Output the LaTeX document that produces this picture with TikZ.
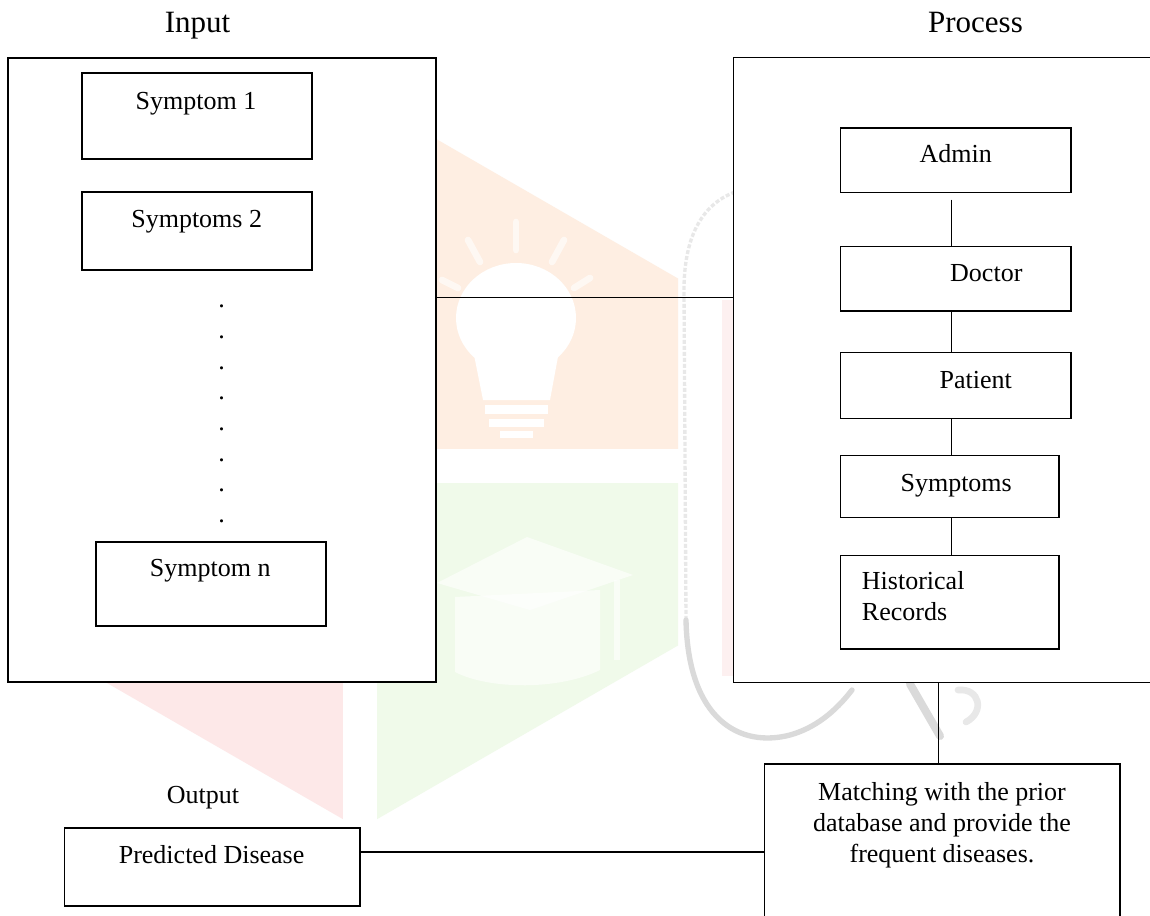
\documentclass[tikz,border=0pt]{standalone}
\usepackage{fontspec}
\setmainfont{Liberation Serif}
\definecolor{wmorange}{RGB}{254,238,226}
\definecolor{wmgreen}{RGB}{240,250,234}
\definecolor{wmpink}{RGB}{253,232,232}
\definecolor{wmstrip}{RGB}{253,240,240}
\definecolor{wmgray}{RGB}{218,218,218}
\definecolor{wmgraylight}{RGB}{232,232,232}
\tikzset{
  box/.style={draw=black, line width=1.1pt, fill=white, inner sep=0pt, rectangle},
  txt/.style={inner sep=0pt, anchor=base, font=\fontsize{19.5pt}{23.25pt}\selectfont},
  head/.style={inner sep=0pt, anchor=base, font=\fontsize{23.25pt}{28pt}\selectfont},
  link/.style={draw=black, line width=1.1pt},
}
\begin{document}
\begin{tikzpicture}[x=0.75pt,y=-0.75pt]
\clip (0,0) rectangle (1150,916);
\fill[white] (0,0) rectangle (1150,916);
% ---------- faint watermark ----------
\begin{scope}
  \clip (360,95) -- (678,278.5) -- (678,645.5) -- (360,829) -- (42,645.5) -- (42,278.5) -- cycle;
  \fill[wmorange] (0,0) rectangle (700,449);
  \fill[wmgreen] (377,483) rectangle (700,900);
  \fill[wmpink] (0,483) rectangle (343,900);
\end{scope}
\fill[white] (516,318) ellipse [x radius=60, y radius=55];
\fill[white] (470,335) -- (562,335) -- (550,400) -- (483,400) -- cycle;
\fill[white] (485,405) rectangle (548,414);
\fill[white] (489,419) rectangle (544,427);
\fill[white] (500,431) rectangle (533,438);
\begin{scope}[white, opacity=0.6, line width=5pt, line cap=round]
  \draw (516,222) -- (516,250);
  \draw (468,240) -- (480,262);
  \draw (564,240) -- (552,262);
  \draw (442,280) -- (458,288);
  \draw (590,278) -- (574,288);
\end{scope}
\fill[white, opacity=0.6] (437,583) -- (527,537) -- (633,575) -- (530,610) -- cycle;
\fill[white, opacity=0.6] (455,597) -- (600,590) -- (600,670) .. controls (560,690) and (490,690) .. (455,672) -- cycle;
\draw[white, opacity=0.6, line width=4pt] (617,580) -- (617,660);
\fill[wmstrip] (722,300) rectangle (733,676);
\draw[wmgraylight, line width=2.5pt, dash pattern=on 3pt off 1.5pt] (735,192) .. controls (700,205) and (684,240) .. (684,290) -- (686,620);
\draw[wmgray, line width=4pt, line cap=round] (686,620) .. controls (688,720) and (740,748) .. (790,735) .. controls (815,728) and (835,712) .. (852,690);
\draw[wmgray, line width=6pt, line cap=round] (910,684) -- (940,736);
\draw[wmgraylight, line width=5pt, line cap=round] (958,690) .. controls (980,688) and (985,712) .. (966,722);
% ---------- Input ----------
\node[head] (inlbl) at (197.5,33) {Input};
\node[box, minimum width=321pt, minimum height=468pt] (inbox) at (222,370) {};
\node[box, minimum width=172.5pt, minimum height=64.5pt] (s1) at (197,116) {};
\node[txt] (s1t) at (196,110) {Symptom 1};
\node[box, minimum width=172.5pt, minimum height=58.5pt] (s2) at (197,231) {};
\node[txt] (s2t) at (196.7,228) {Symptoms 2};
\foreach \i in {0,...,7} {
  \node[txt] (dot\i) at (221.7,{307.7+30.7*\i}) {.};
}
\node[box, minimum width=172.5pt, minimum height=63pt] (sn) at (211,584) {};
\node[txt] (snt) at (210.3,576.7) {Symptom n};
% ---------- Process ----------
\node[head] (prlbl) at (975.5,33) {Process};
\node[box, minimum width=320pt, minimum height=468.5pt] (procbox) at (946.65,370) {};
\node[box, minimum width=173pt, minimum height=48.5pt] (admin) at (955.65,160.35) {};
\node[txt] (admint) at (955.7,163) {Admin};
\node[box, minimum width=173pt, minimum height=48.2pt] (doctor) at (955.65,278.85) {};
\node[txt] (doctort) at (986.3,281.7) {Doctor};
\node[box, minimum width=173pt, minimum height=49.2pt] (patient) at (955.65,385.5) {};
\node[txt] (patientt) at (975.8,388.3) {Patient};
\node[box, minimum width=164pt, minimum height=46.8pt] (symp) at (949.65,486.5) {};
\node[txt] (sympt) at (956.2,491) {Symptoms};
\node[box, minimum width=164pt, minimum height=70.3pt] (hist) at (949.65,602.15) {};
\node[txt, anchor=base west] (histt1) at (861.7,589.3) {Historical};
\node[txt, anchor=base west] (histt2) at (861.7,620) {Records};
% ---------- Output ----------
\node[box, minimum width=266.5pt, minimum height=132pt] (match) at (942.35,852) {};
\node[txt, align=center] (matcht) at (942,862) {Matching with the prior\\database and provide the\\frequent diseases.};
\node[txt] (outlbl) at (203,803) {Output};
\node[box, minimum width=221.6pt, minimum height=58.3pt] (pred) at (212.3,866.9) {};
\node[txt] (predt) at (211.6,863.3) {Predicted Disease};
% ---------- connectors ----------
\coordinate (cx) at (951.3,0);
\coordinate (cx2) at (938.5,0);
\coordinate (hy) at (0,297.3);
\coordinate (ly) at (0,852);
\coordinate (adminlow) at ([yshift=-4.7pt]admin.south);
\draw[link] (inbox.east |- hy) -- (procbox.west |- hy);
\draw[link] (adminlow -| cx) -- (doctor.north -| cx);
\draw[link] (doctor.south -| cx) -- (patient.north -| cx);
\draw[link] (patient.south -| cx) -- (symp.north -| cx);
\draw[link] (symp.south -| cx) -- (hist.north -| cx);
\draw[link] (procbox.south -| cx2) -- (match.north -| cx2);
\draw[link] (pred.east |- ly) -- (match.west |- ly);
\end{tikzpicture}
\end{document}
